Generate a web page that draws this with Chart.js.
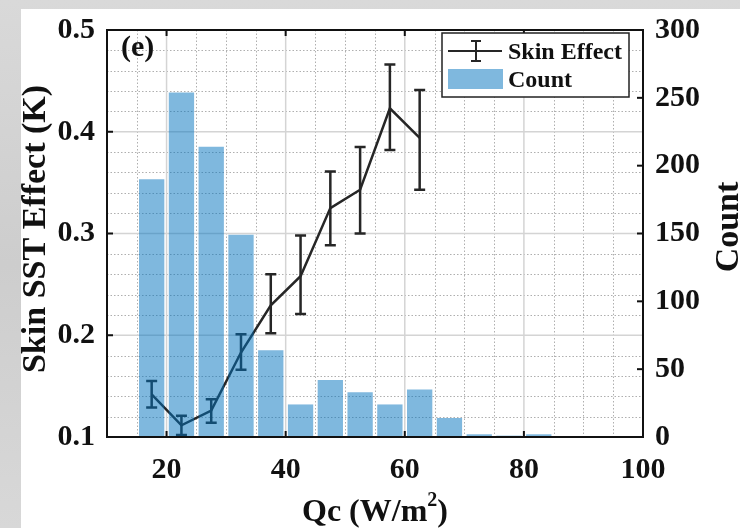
<!DOCTYPE html>
<html>
<head>
<meta charset="utf-8">
<script src="https://cdn.jsdelivr.net/npm/chart.js@4.4.1/dist/chart.umd.min.js"></script>
<style>
html,body{margin:0;padding:0;background:#d6d6d6;}
#wrap{position:absolute;left:0;top:0;width:740px;height:528px;}
</style>
</head>
<body>
<div id="wrap"><canvas id="c" width="740" height="528"></canvas></div>
<script>
// ---- data ----
const binCenters = [17.5, 22.5, 27.5, 32.5, 37.5, 42.5, 47.5, 52.5, 57.5, 62.5, 67.5, 72.5, 77.5, 82.5];
const counts     = [190, 254, 214, 149, 64, 24, 42, 33, 24, 35, 14, 2, 1, 2];
const effectQc   = [17.5, 22.5, 27.5, 32.5, 37.5, 42.5, 47.5, 52.5, 57.5, 62.5];
const skinEffect = [0.142, 0.1115, 0.126, 0.183, 0.2295, 0.258, 0.325, 0.343, 0.423, 0.394];
const errLow     = [0.129, 0.102, 0.114, 0.166, 0.202, 0.221, 0.2885, 0.300, 0.382, 0.343];
const errHigh    = [0.155, 0.121, 0.137, 0.201, 0.260, 0.298, 0.361, 0.385, 0.466, 0.441];
const xTickVals     = [20, 40, 60, 80, 100];
const leftTickVals  = [0.1, 0.2, 0.3, 0.4, 0.5];
const rightTickVals = [0, 50, 100, 150, 200, 250, 300];

const SERIF = '"Liberation Serif", "Times New Roman", serif';
const LINE_COLOR = 'rgb(38,38,38)';
const BAR_COLOR = 'rgba(0,114,189,0.5)';

const bgPlugin = {
  id: 'bg',
  beforeDraw(chart) {
    const ctx = chart.ctx;
    ctx.save();
    const g = ctx.createLinearGradient(0, 0, 0, 528);
    g.addColorStop(0, '#d9d9d9');
    g.addColorStop(0.5, '#cdcdcd');
    g.addColorStop(1, '#d8d8d8');
    ctx.fillStyle = g;
    ctx.fillRect(0, 0, 740, 528);
    ctx.fillStyle = '#ffffff';
    ctx.fillRect(21, 9, 719, 519);
    ctx.restore();
  }
};

const gridPlugin = {
  id: 'customGrid',
  beforeDatasetsDraw(chart) {
    const {ctx, chartArea: a, scales} = chart;
    const xs = scales.x, ys = scales.y;
    ctx.save();
    // minor dotted
    ctx.strokeStyle = 'rgb(175,175,175)';
    ctx.lineWidth = 1;
    ctx.setLineDash([1.5, 2]);
    for (let v = 15; v < 100; v += 5) {
      if (v % 20 === 0) continue;
      const px = Math.round(xs.getPixelForValue(v)) + 0.5;
      ctx.beginPath(); ctx.moveTo(px, a.top); ctx.lineTo(px, a.bottom); ctx.stroke();
    }
    for (let k = 12; k < 50; k += 2) {
      if (k % 10 === 0) continue;
      const py = Math.round(ys.getPixelForValue(k / 100)) + 0.5;
      ctx.beginPath(); ctx.moveTo(a.left, py); ctx.lineTo(a.right, py); ctx.stroke();
    }
    // major solid
    ctx.setLineDash([]);
    ctx.strokeStyle = 'rgb(212,212,212)';
    ctx.lineWidth = 1.5;
    [20, 40, 60, 80].forEach(v => {
      const px = xs.getPixelForValue(v);
      ctx.beginPath(); ctx.moveTo(px, a.top); ctx.lineTo(px, a.bottom); ctx.stroke();
    });
    [0.2, 0.3, 0.4].forEach(v => {
      const py = ys.getPixelForValue(v);
      ctx.beginPath(); ctx.moveTo(a.left, py); ctx.lineTo(a.right, py); ctx.stroke();
    });
    ctx.restore();
  },
  afterDatasetDraw(chart, args) {
    if (args.index !== 0) return;
    const {ctx, scales} = chart;
    const xs = scales.x, ys = scales.y;
    ctx.save();
    ctx.strokeStyle = LINE_COLOR;
    ctx.lineWidth = 2.5;
    effectQc.forEach((q, i) => {
      const px = xs.getPixelForValue(q);
      const y1 = ys.getPixelForValue(errLow[i]);
      const y2 = ys.getPixelForValue(errHigh[i]);
      ctx.beginPath();
      ctx.moveTo(px, y1); ctx.lineTo(px, y2);
      ctx.moveTo(px - 5.5, y1); ctx.lineTo(px + 5.5, y1);
      ctx.moveTo(px - 5.5, y2); ctx.lineTo(px + 5.5, y2);
      ctx.stroke();
    });
    ctx.restore();
  },
  afterDraw(chart) {
    const {ctx, chartArea: a, scales} = chart;
    const xs = scales.x, ys = scales.y, yr = scales.y1;
    ctx.save();
    // box
    ctx.strokeStyle = '#111';
    ctx.lineWidth = 2;
    ctx.strokeRect(a.left, a.top, a.right - a.left, a.bottom - a.top);
    // inward ticks
    ctx.lineWidth = 2;
    const TL = 6;
    leftTickVals.forEach(v => {
      const py = ys.getPixelForValue(v);
      ctx.beginPath(); ctx.moveTo(a.left, py); ctx.lineTo(a.left + TL, py); ctx.stroke();
    });
    rightTickVals.forEach(v => {
      const py = yr.getPixelForValue(v);
      ctx.beginPath(); ctx.moveTo(a.right, py); ctx.lineTo(a.right - TL, py); ctx.stroke();
    });
    xTickVals.forEach(v => {
      const px = xs.getPixelForValue(v);
      ctx.beginPath(); ctx.moveTo(px, a.bottom); ctx.lineTo(px, a.bottom - TL); ctx.stroke();
      ctx.beginPath(); ctx.moveTo(px, a.top); ctx.lineTo(px, a.top + TL); ctx.stroke();
    });
    // panel label
    ctx.fillStyle = '#111';
    ctx.font = 'bold 30px ' + SERIF;
    ctx.textAlign = 'left';
    ctx.textBaseline = 'alphabetic';
    ctx.fillText('(e)', 121, 56);
    // axis titles
    ctx.font = 'bold 34px ' + SERIF;
    ctx.textAlign = 'center';
    ctx.save();
    ctx.translate(45, 229);
    ctx.rotate(-Math.PI / 2);
    ctx.fillText('Skin SST Effect (K)', 0, 0);
    ctx.restore();
    ctx.save();
    ctx.translate(738, 227);
    ctx.rotate(-Math.PI / 2);
    ctx.fillText('Count', 0, 0);
    ctx.restore();
    // x title with superscript
    ctx.font = 'bold 32px ' + SERIF;
    const t1 = 'Qc (W/m', t2 = '2', t3 = ')';
    const w1 = ctx.measureText(t1).width, w3 = ctx.measureText(t3).width;
    ctx.font = 'bold 20px ' + SERIF;
    const w2 = ctx.measureText(t2).width;
    const total = w1 + w2 + w3;
    let sx = 375 - total / 2;
    ctx.textAlign = 'left';
    ctx.font = 'bold 32px ' + SERIF;
    ctx.fillText(t1, sx, 521);
    ctx.font = 'bold 20px ' + SERIF;
    ctx.fillText(t2, sx + w1, 506);
    ctx.font = 'bold 32px ' + SERIF;
    ctx.fillText(t3, sx + w1 + w2, 521);
    // legend
    const L = 442, T = 33, R = 629, B = 97;
    ctx.fillStyle = '#fff';
    ctx.fillRect(L, T, R - L, B - T);
    ctx.strokeStyle = '#222';
    ctx.lineWidth = 1.5;
    ctx.strokeRect(L, T, R - L, B - T);
    ctx.strokeStyle = LINE_COLOR;
    ctx.lineWidth = 2;
    ctx.beginPath();
    ctx.moveTo(448, 51); ctx.lineTo(502, 51);
    ctx.moveTo(476, 41); ctx.lineTo(476, 61);
    ctx.moveTo(471, 41); ctx.lineTo(481, 41);
    ctx.moveTo(471, 61); ctx.lineTo(481, 61);
    ctx.stroke();
    ctx.fillStyle = BAR_COLOR;
    ctx.fillRect(448, 69, 55, 20);
    ctx.fillStyle = '#111';
    ctx.font = 'bold 24px ' + SERIF;
    ctx.fillText('Skin Effect', 508, 59);
    ctx.fillText('Count', 508, 87);
    ctx.restore();
  }
};

new Chart(document.getElementById('c'), {
  data: {
    datasets: [
      {
        type: 'line',
        label: 'Skin Effect',
        data: effectQc.map((q, i) => ({x: q, y: skinEffect[i]})),
        yAxisID: 'y',
        borderColor: LINE_COLOR,
        borderWidth: 2.5,
        pointRadius: 0,
        tension: 0,
        order: 1
      },
      {
        type: 'bar',
        label: 'Count',
        data: binCenters.map((q, i) => ({x: q, y: counts[i]})),
        yAxisID: 'y1',
        backgroundColor: BAR_COLOR,
        borderWidth: 0,
        barPercentage: 0.85,
        categoryPercentage: 1,
        order: 0
      }
    ]
  },
  options: {
    responsive: false,
    animation: false,
    layout: {padding: {top: 19, left: 0, right: 0, bottom: 0}},
    plugins: {legend: {display: false}, tooltip: {enabled: false}},
    scales: {
      x: {
        type: 'linear', position: 'bottom', min: 10, max: 100, offset: false,
        grid: {display: false, drawTicks: false}, border: {display: false},
        afterBuildTicks: s => { s.ticks = xTickVals.map(v => ({value: v})); },
        afterFit: s => { s.height = 91; },
        ticks: {padding: 15, color: '#111', maxRotation: 0, autoSkip: false,
                font: {family: SERIF, size: 30, weight: 'bold'}}
      },
      y: {
        type: 'linear', position: 'left', min: 0.1, max: 0.5,
        grid: {display: false, drawTicks: false}, border: {display: false},
        afterBuildTicks: s => { s.ticks = leftTickVals.map(v => ({value: v})); },
        afterFit: s => { s.width = 107; },
        ticks: {padding: 12, color: '#111', callback: v => Number(v).toFixed(1),
                font: {family: SERIF, size: 30, weight: 'bold'}}
      },
      y1: {
        type: 'linear', position: 'right', min: 0, max: 300,
        grid: {display: false, drawTicks: false}, border: {display: false},
        afterBuildTicks: s => { s.ticks = rightTickVals.map(v => ({value: v})); },
        afterFit: s => { s.width = 97; },
        ticks: {padding: 12, color: '#111',
                font: {family: SERIF, size: 30, weight: 'bold'}}
      }
    }
  },
  plugins: [bgPlugin, gridPlugin]
});
</script>
</body>
</html>
